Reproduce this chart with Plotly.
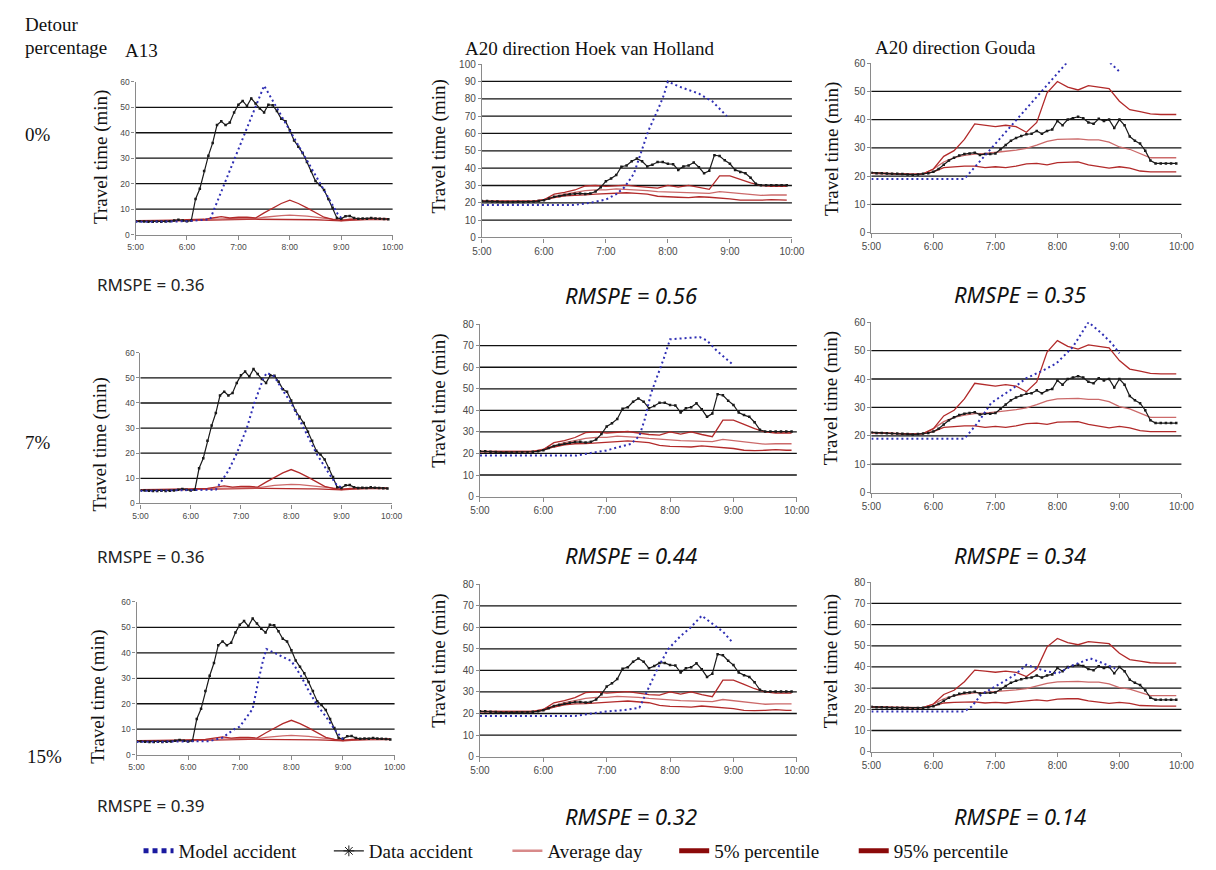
import plotly.graph_objects as go
from plotly.subplots import make_subplots

W, H = 1216, 870


def hm(s):
    h, m = s.split(":")
    return int(h) + int(m) / 60


# ---- time grids (hours) -------------------------------------------------
T5 = [5 + k / 12 for k in range(60)]                     # 5:00 .. 9:55, 5-min
T10 = [5 + k / 6 for k in range(30)] + [5 + 295 / 60]    # 5:00 .. 9:50, 9:55

# ---- observed travel times on the accident day (5-min) ------------------
A13_DATA = [5.2, 5.2, 5.1, 5.0, 5.0, 5.1, 5.0, 5.1, 5.2, 5.5, 5.8, 5.5,
            5.2, 5.5, 14.0, 18.0, 25.0, 31.0, 36.0, 43.0, 44.5, 43.0, 44.0, 48.0,
            51.0, 52.5, 50.5, 53.5, 51.5, 49.5, 48.0, 51.0, 50.8, 48.5, 45.5, 44.5,
            41.0, 37.0, 34.5, 32.0, 28.5, 25.0, 21.0, 19.5, 17.5, 14.0, 10.5, 6.5,
            6.2, 7.2, 7.3, 6.5, 6.2, 6.3, 6.2, 6.5, 6.3, 6.2, 6.1, 6.0]
HVH_DATA = [21.0, 21.0, 20.8, 20.7, 20.5, 20.5, 20.5, 20.6, 20.5, 20.6, 20.8, 21.0,
            21.5, 22.5, 23.5, 24.0, 24.5, 25.0, 25.3, 25.4, 25.1, 25.4, 26.5, 29.0,
            32.5, 34.0, 36.0, 40.8, 41.5, 44.0, 45.5, 44.0, 41.0, 42.0, 43.5, 43.5,
            42.5, 42.3, 39.0, 41.0, 41.5, 43.3, 40.5, 37.0, 38.5, 47.5, 47.0, 44.5,
            42.5, 39.0, 37.8, 37.0, 34.5, 31.0, 30.2, 30.2, 30.2, 30.2, 30.2, 30.2]
GOUDA_DATA = [21.2, 21.0, 21.0, 20.9, 20.8, 20.8, 20.7, 20.6, 20.5, 20.6, 20.8, 21.0,
              21.5, 22.5, 24.0, 25.5, 26.5, 27.3, 27.8, 28.0, 28.3, 27.5, 27.8, 27.8,
              28.0, 29.5, 31.0, 32.5, 33.5, 34.2, 34.8, 35.0, 36.0, 35.0, 36.0, 36.5,
              39.5, 38.0, 40.0, 40.5, 41.0, 40.5, 39.0, 38.5, 40.3, 39.5, 40.0, 37.0,
              40.0, 38.0, 34.0, 32.5, 31.5, 29.0, 25.5, 24.5, 24.5, 24.5, 24.5, 24.5]

# ---- reference days: average, 5% and 95% percentile (10-min) -----------
A13_AVG = [5.4, 5.4, 5.4, 5.5, 5.5, 5.6, 5.7, 5.8, 5.9, 6.0, 6.3, 6.2, 6.3, 6.3, 6.2, 6.8,
           7.2, 7.4, 7.6, 7.5, 7.2, 6.8, 6.3, 6.0, 5.8, 5.9, 6.0, 6.0, 6.1, 6.0, 6.0]
A13_P5 = [5.2, 5.2, 5.2, 5.3, 5.3, 5.4, 5.5, 5.6, 5.7, 5.8, 5.9, 5.9, 6.0, 6.0, 6.0, 6.0,
          5.9, 5.8, 5.8, 5.8, 5.8, 5.8, 5.7, 5.6, 5.4, 5.6, 5.8, 5.9, 5.9, 5.9, 5.9]
A13_P95 = [5.5, 5.5, 5.5, 5.6, 5.6, 5.7, 5.8, 5.9, 6.0, 6.5, 7.0, 6.5, 6.8, 6.8, 6.5, 8.5,
           10.5, 12.2, 13.5, 12.2, 10.5, 8.5, 6.8, 6.0, 5.5, 6.0, 6.0, 6.2, 6.3, 6.2, 6.2]

HVH_AVG = [21.0, 21.0, 20.8, 20.8, 20.8, 21.0, 22.0, 23.5, 25.0, 26.0, 27.0, 27.5, 27.5,
           28.0, 27.8, 27.5, 27.0, 26.5, 26.3, 26.0, 25.8, 25.5, 25.5, 26.5, 26.0, 25.5,
           25.0, 24.3, 24.5, 24.5, 24.5]
HVH_P5 = [20.8, 20.8, 20.6, 20.6, 20.6, 20.8, 21.5, 23.0, 24.0, 24.5, 24.6, 25.0, 25.3,
          25.5, 25.8, 25.5, 25.0, 23.8, 23.3, 23.2, 23.0, 23.5, 23.2, 22.8, 22.3, 21.5,
          21.3, 21.5, 21.8, 21.5, 21.5]
HVH_P95 = [21.0, 21.0, 20.8, 20.8, 20.8, 21.0, 21.8, 25.0, 26.0, 27.4, 29.7, 30.0, 29.5,
           30.0, 30.2, 29.5, 28.8, 28.5, 30.0, 29.0, 30.0, 28.8, 27.8, 35.5, 35.5, 33.5,
           31.5, 30.0, 29.5, 29.5, 29.5]

GOUDA_AVG = [21.0, 20.9, 20.8, 20.7, 20.6, 20.8, 22.5, 25.0, 26.5, 27.3, 27.8, 28.0, 28.3,
             28.8, 29.2, 29.8, 31.0, 32.3, 33.0, 33.0, 33.2, 32.8, 32.8, 32.0, 30.3, 29.5,
             28.0, 26.5, 26.5, 26.5, 26.5]
GOUDA_P5 = [21.0, 20.9, 20.8, 20.7, 20.6, 20.8, 21.5, 23.0, 23.3, 23.5, 23.5, 23.0, 23.3,
            23.0, 23.5, 24.3, 24.5, 24.0, 24.8, 25.0, 25.0, 24.0, 23.5, 22.8, 23.3, 22.8,
            21.8, 21.5, 21.5, 21.5, 21.5]
GOUDA_P95 = [21.2, 21.0, 20.9, 20.8, 20.7, 20.8, 22.5, 27.0, 29.0, 33.0, 38.5, 38.0, 37.5,
             38.0, 37.5, 35.5, 39.0, 49.5, 53.5, 51.5, 50.5, 52.0, 51.5, 51.0, 46.5, 43.5,
             42.8, 42.0, 41.8, 41.8, 41.8]

# ---- model predictions per detour percentage ----------------------------
A13_M0_T = ["5:00", "6:00", "6:27", "7:30", "8:56", "9:00"]
A13_M0 = [5.0, 5.2, 6.0, 58.5, 8.0, 6.5]
A13_M7_T = ["5:00", "6:30", "6:35", "6:45", "6:55", "7:07", "7:16", "7:27", "7:31",
            "7:40", "7:50", "8:00", "8:15", "8:30", "8:45", "8:55", "9:00"]
A13_M7 = [5.0, 5.5, 8.0, 13.0, 20.0, 30.0, 40.0, 50.0, 52.0, 50.5, 45.0, 40.0, 30.0,
          20.0, 12.0, 7.0, 6.5]
A13_M15_T = ["5:00", "6:25", "6:40", "6:55", "7:00", "7:15", "7:21", "7:27", "7:31",
             "7:44", "8:00", "8:11", "8:19", "8:30", "8:40", "8:50", "9:00"]
A13_M15 = [5.0, 5.3, 6.7, 10.3, 11.0, 18.0, 28.0, 37.0, 41.5, 39.4, 36.8, 31.0, 25.8,
           19.4, 15.0, 10.0, 6.0]

HVH_M0_T = ["5:00", "6:30", "6:45", "7:00", "7:10", "7:18", "7:27", "7:33", "7:41",
            "7:51", "7:56", "8:00", "8:11", "8:30", "8:43", "8:57"]
HVH_M0 = [18.8, 18.8, 20.0, 21.9, 25.0, 29.0, 36.7, 47.0, 61.4, 74.7, 82.0, 90.0, 87.0,
          83.0, 78.5, 70.0]
HVH_M7_T = ["5:00", "6:31", "6:46", "6:59", "7:11", "7:23", "7:31", "7:36", "7:42",
            "7:48", "7:54", "8:00", "8:16", "8:28", "8:35", "8:44", "9:00"]
HVH_M7 = [19.0, 19.0, 20.3, 21.3, 22.9, 24.4, 28.2, 35.8, 48.0, 55.6, 64.0, 73.0, 73.6,
          74.0, 72.4, 67.8, 61.0]
HVH_M15_T = ["5:00", "6:30", "6:59", "7:17", "7:31", "7:39", "7:48", "7:58", "8:10",
             "8:19", "8:30", "8:41", "8:50", "8:58"]
HVH_M15 = [18.9, 18.9, 20.9, 21.6, 22.7, 30.8, 40.7, 49.8, 56.0, 59.7, 65.4, 61.3, 58.0,
           53.6]

GOUDA_M0_T = ["5:00", "6:30", "8:10", "8:30", "8:50", "9:00"]
GOUDA_M0 = [19.0, 19.0, 60.5, 68.0, 60.5, 57.0]
GOUDA_M7_T = ["5:00", "6:30", "6:43", "6:56", "7:15", "7:30", "7:46", "7:59", "8:15",
              "8:30", "8:43", "8:53", "9:00"]
GOUDA_M7 = [19.0, 19.0, 24.6, 31.6, 36.2, 40.3, 43.0, 45.5, 51.3, 60.0, 56.0, 52.4, 49.0]
GOUDA_M15_T = ["5:00", "6:30", "6:37", "6:46", "7:02", "7:18", "7:30", "7:46", "8:00",
               "8:15", "8:32", "8:43", "8:56"]
GOUDA_M15 = [19.0, 19.0, 21.3, 26.8, 31.4, 36.0, 41.0, 38.4, 36.9, 40.8, 44.0, 42.0, 39.2]

DETOURS = ["0%", "7%", "15%"]
ROADS = ["A13", "A20 direction Hoek van Holland", "A20 direction Gouda"]
RMSPE = [["0.36", "0.56", "0.35"],
         ["0.36", "0.44", "0.34"],
         ["0.39", "0.32", "0.14"]]
Y_MAX = [[60, 100, 60],
         [60, 80, 60],
         [60, 80, 80]]
X_TICKS = [5, 6, 7, 8, 9, 10]
X_TICKTEXT = ["5:00", "6:00", "7:00", "8:00", "9:00", "10:00"]

OBSERVED = [
    (A13_DATA, A13_AVG, A13_P5, A13_P95),
    (HVH_DATA, HVH_AVG, HVH_P5, HVH_P95),
    (GOUDA_DATA, GOUDA_AVG, GOUDA_P5, GOUDA_P95),
]
MODEL = [
    [(A13_M0_T, A13_M0), (HVH_M0_T, HVH_M0), (GOUDA_M0_T, GOUDA_M0)],
    [(A13_M7_T, A13_M7), (HVH_M7_T, HVH_M7), (GOUDA_M7_T, GOUDA_M7)],
    [(A13_M15_T, A13_M15), (HVH_M15_T, HVH_M15), (GOUDA_M15_T, GOUDA_M15)],
]

# ---- page geometry (pixels): plot boxes [left, right, top, bottom] ------
BOX = [
    [(128, 390, 77, 232), (481, 797, 59, 235), (878, 1194, 58, 230)],
    [(133, 389, 352, 505), (479, 802, 323, 498), (878, 1194, 321, 494)],
    [(129, 392, 605, 760), (479, 802, 587, 762), (878, 1194, 585, 757)],
]
YTITLE_POS = [
    [(92, 153), (437, 143), (838, 145)],
    [(92, 445), (437, 401), (837, 398)],
    [(89, 701), (437, 665), (837, 665)],
]
RMSPE_POS = [
    [(87, 283), (633, 293), (1029, 292)],
    [(87, 559), (633, 557), (1029, 557)],
    [(87, 812), (633, 822), (1029, 822)],
]
DETOUR_POS = [(13, 130), (13, 443), (15, 762)]
ROAD_POS = [(115, 45), (462, 43), (880, 42)]
LEGEND_TEXT_LEFT = [179, 373, 555, 725, 908]
LEGEND_Y = 858

SERIF = "Liberation Serif, Times New Roman, serif"
SANS = "Liberation Sans, Arial, sans-serif"

C_MODEL = "#2f2fb4"
C_DATA = "#1a1a1a"
C_AVG = "#cc6a6a"
C_PCT = "#b22a2a"
C_GRID = "#111111"
C_AXIS = "#8a8a8a"


def px(x):
    return x / W


def py(y):
    return 1 - y / H


fig = make_subplots(rows=3, cols=3)

for r in range(3):
    for c in range(3):
        data, avg, p5, p95 = OBSERVED[c]
        mt, mv = MODEL[r][c]
        for ys, col in ((p5, C_PCT), (avg, C_AVG), (p95, C_PCT)):
            fig.add_trace(go.Scatter(x=T10, y=ys, mode="lines",
                                     line=dict(color=col, width=1.3),
                                     showlegend=False, hoverinfo="skip"),
                          row=r + 1, col=c + 1)
        fig.add_trace(go.Scatter(x=T5, y=data, mode="lines+markers",
                                 line=dict(color=C_DATA, width=1.2),
                                 marker=dict(symbol="square", size=2.5, color=C_DATA),
                                 showlegend=False, hoverinfo="skip"),
                      row=r + 1, col=c + 1)
        fig.add_trace(go.Scatter(x=[hm(t) for t in mt], y=mv, mode="lines",
                                 line=dict(color=C_MODEL, width=2, dash="2px,3px"),
                                 showlegend=False, hoverinfo="skip"),
                      row=r + 1, col=c + 1)

# legend entries, one legend box per entry so each can be placed on the row
LEGEND = [
    ("Model accident", dict(color="#1a1aa0", width=5, dash="5px,4px"), None),
    ("Data accident", dict(color=C_DATA, width=1.3),
     dict(symbol="asterisk-open", size=9, color=C_DATA, line=dict(width=1, color=C_DATA))),
    ("Average day", dict(color="#d88a8a", width=2.5), None),
    ("5% percentile", dict(color="#8b0a0a", width=5), None),
    ("95% percentile", dict(color="#8b0a0a", width=5), None),
]
legend_layout = {}
for i, ((name, ln, mk), tx) in enumerate(zip(LEGEND, LEGEND_TEXT_LEFT)):
    key = "legend" if i == 0 else f"legend{i + 1}"
    fig.add_trace(go.Scatter(x=[None], y=[None], name=name,
                             mode="lines+markers" if mk else "lines",
                             line=ln, marker=mk, showlegend=True, legend=key),
                  row=1, col=1)
    legend_layout[key] = dict(x=px(tx - 48), y=py(LEGEND_Y), xanchor="left",
                              yanchor="middle", orientation="h",
                              font=dict(family=SERIF, size=19, color="#111"),
                              bgcolor="rgba(0,0,0,0)", borderwidth=0)

annotations = []
shapes = []
for r in range(3):
    for c in range(3):
        n = r * 3 + c + 1
        sfx = "" if n == 1 else str(n)
        L, R, T, B = BOX[r][c]
        ymax = Y_MAX[r][c]
        tfs = 8.5 if c == 0 else 10
        fig.layout[f"xaxis{sfx}"].update(
            domain=[px(L), px(R)], range=[5, 10], tickvals=X_TICKS, ticktext=X_TICKTEXT,
            showline=True, linecolor=C_AXIS, linewidth=1.2, ticks="outside", ticklen=4,
            tickcolor=C_AXIS, showgrid=False, zeroline=False,
            tickfont=dict(family=SANS, size=tfs, color="#4a4a4a"))
        fig.layout[f"yaxis{sfx}"].update(
            domain=[py(B), py(T)], range=[0, ymax],
            tickvals=list(range(0, ymax + 1, 10)),
            showline=True, linecolor=C_AXIS, linewidth=1.2, ticks="outside", ticklen=3,
            tickcolor=C_AXIS, showgrid=False, zeroline=False,
            tickfont=dict(family=SANS, size=tfs, color="#4a4a4a"))
        for g in range(10, ymax, 10):
            shapes.append(dict(type="line", xref=f"x{sfx} domain", yref=f"y{sfx}",
                               x0=0, x1=1, y0=g, y1=g, layer="below",
                               line=dict(color=C_GRID, width=1.3)))
        tx, ty = YTITLE_POS[r][c]
        annotations.append(dict(text="Travel time (min)", x=px(tx), y=py(ty),
                                xref="paper", yref="paper", textangle=-90,
                                showarrow=False, xanchor="center", yanchor="middle",
                                font=dict(family=SERIF, size=19, color="#111")))
        rx, ry = RMSPE_POS[r][c]
        if c == 0:
            annotations.append(dict(text=f"RMSPE = {RMSPE[r][c]}", x=px(rx), y=py(ry),
                                    xref="paper", yref="paper", showarrow=False,
                                    xanchor="left", yanchor="middle",
                                    font=dict(family="Noto Sans, sans-serif", size=17,
                                              color="#222")))
        else:
            annotations.append(dict(text=f"RMSPE = {RMSPE[r][c]}", x=px(rx), y=py(ry),
                                    xref="paper", yref="paper", showarrow=False,
                                    xanchor="center", yanchor="middle",
                                    font=dict(family="Noto Sans, sans-serif", size=22,
                                              color="#111", style="italic")))

for (dx, dy), label in zip(DETOUR_POS, DETOURS):
    annotations.append(dict(text=label, x=px(dx), y=py(dy), xref="paper", yref="paper",
                            showarrow=False, xanchor="left", yanchor="middle",
                            font=dict(family=SERIF, size=19, color="#111")))
for (rx, ry), label in zip(ROAD_POS, ROADS):
    annotations.append(dict(text=label, x=px(rx), y=py(ry), xref="paper", yref="paper",
                            showarrow=False, xanchor="left", yanchor="middle",
                            font=dict(family=SERIF, size=19, color="#111")))
annotations.append(dict(text="Detour", x=px(13), y=py(19), xref="paper", yref="paper",
                        showarrow=False, xanchor="left", yanchor="middle",
                        font=dict(family=SERIF, size=19, color="#111")))
annotations.append(dict(text="percentage", x=px(13), y=py(42), xref="paper", yref="paper",
                        showarrow=False, xanchor="left", yanchor="middle",
                        font=dict(family=SERIF, size=19, color="#111")))

fig.update_layout(
    width=W, height=H, margin=dict(l=0, r=0, t=0, b=0),
    paper_bgcolor="white", plot_bgcolor="white",
    annotations=annotations, shapes=shapes,
    **legend_layout,
)

fig.write_html("out.html")
